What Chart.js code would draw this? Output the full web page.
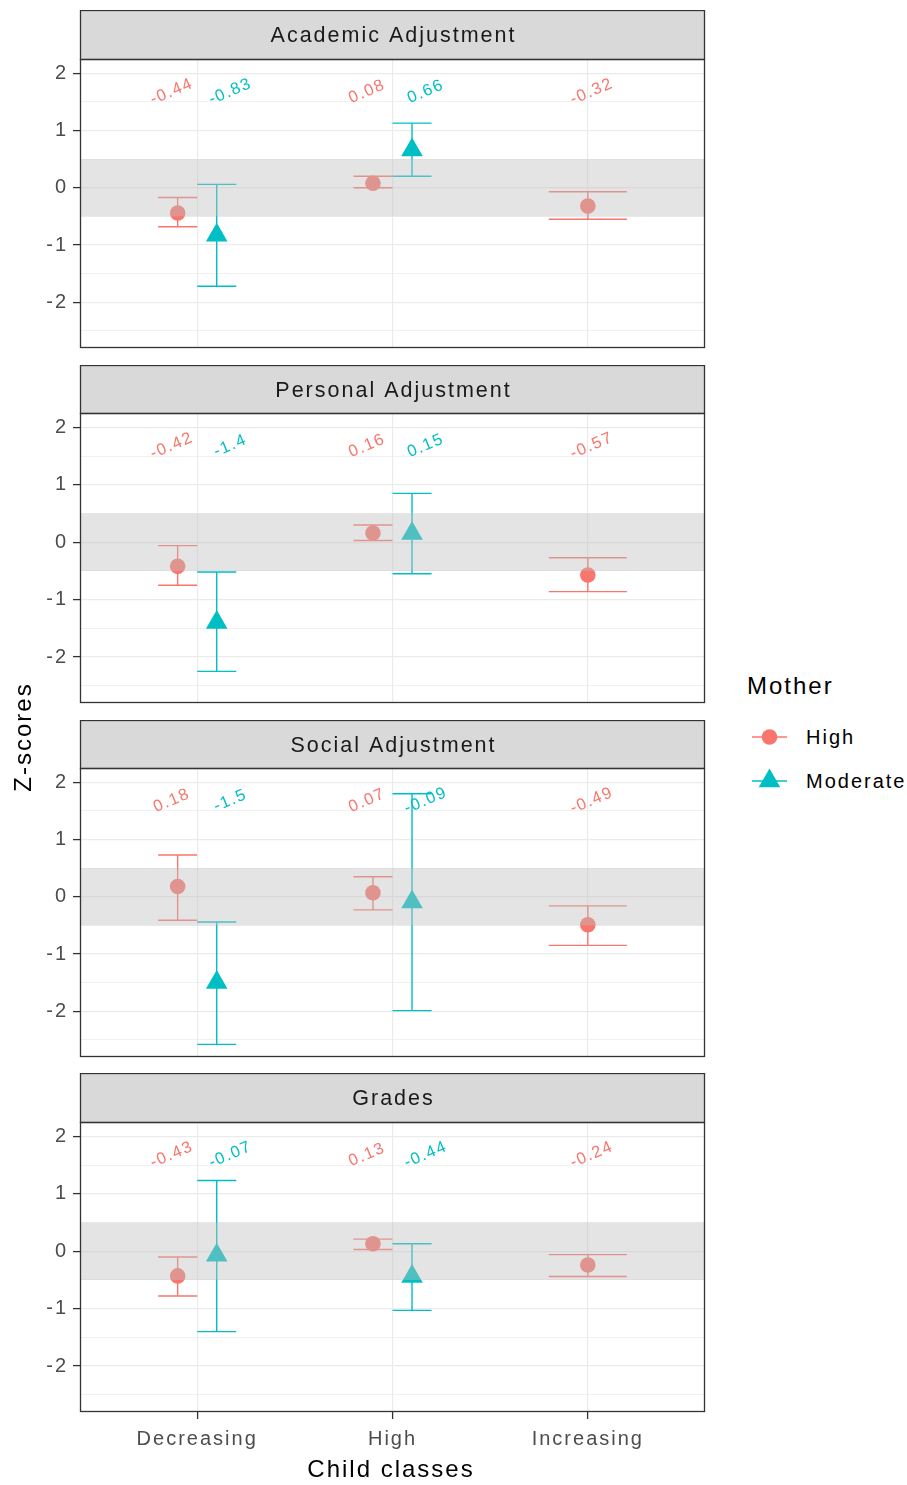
<!DOCTYPE html>
<html><head><meta charset="utf-8">
<script src="https://cdn.jsdelivr.net/npm/chart.js@4.4.0/dist/chart.umd.min.js"></script>
<style>
body{margin:0;background:#fff;width:907px;height:1485px;position:relative;font-family:"Liberation Sans",Arial,sans-serif;overflow:hidden}
canvas{position:absolute;left:0}
.t{position:absolute;white-space:nowrap;color:#000;letter-spacing:2px}
</style></head><body>
<canvas id="c0"></canvas><canvas id="c1"></canvas><canvas id="c2"></canvas><canvas id="c3"></canvas>
<div class="t" style="left:0;top:0;width:44px;height:1485px"><div style="position:absolute;left:23px;top:737px;transform:translate(-50%,-50%) rotate(-90deg);font-size:24px">Z-scores</div></div>
<div class="t" style="left:391px;top:1469px;transform:translate(-50%,-50%);font-size:24px">Child classes</div>
<div class="t" style="left:747px;top:686px;transform:translateY(-50%);font-size:24px">Mother</div>
<svg style="position:absolute;left:748px;top:722px" width="44" height="75">
  <line x1="4" y1="15" x2="39" y2="15" stroke="#F8766D" stroke-width="1.4"/>
  <circle cx="21.5" cy="15" r="7.8" fill="#F8766D"/>
  <line x1="4" y1="59" x2="39" y2="59" stroke="#00BFC4" stroke-width="1.4"/>
  <polygon points="21.5,46.5 32.3,65.2 10.7,65.2" fill="#00BFC4"/>
</svg>
<div class="t" style="left:806px;top:737px;transform:translateY(-50%);font-size:20px" id="lg0"></div>
<div class="t" style="left:806px;top:781px;transform:translateY(-50%);font-size:20px" id="lg1"></div>
<script>
// ---------- data ----------
const panelTitles = ['Academic Adjustment', 'Personal Adjustment', 'Social Adjustment', 'Grades'];
const categories = ['Decreasing', 'High', 'Increasing'];
const seriesNames = ['High', 'Moderate'];
// Mother = High
const highMean = [[-0.44, 0.08, -0.32], [-0.42, 0.16, -0.57], [0.18, 0.07, -0.49], [-0.43, 0.13, -0.24]];
const highLow  = [[-0.68, 0.00, -0.55], [-0.75, 0.03, -0.86], [-0.41, -0.23, -0.85], [-0.78, 0.03, -0.44]];
const highUp   = [[-0.17, 0.20, -0.07], [-0.06, 0.30, -0.27], [0.73, 0.35, -0.16], [-0.10, 0.21, -0.06]];
// Mother = Moderate
const modMean = [[-0.83, 0.66, null], [-1.4, 0.15, null], [-1.5, -0.09, null], [-0.07, -0.44, null]];
const modLow  = [[-1.72, 0.20, null], [-2.25, -0.55, null], [-2.58, -1.99, null], [-1.40, -1.03, null]];
const modUp   = [[0.06, 1.13, null], [-0.52, 0.85, null], [-0.44, 1.80, null], [1.23, 0.13, null]];
const yMajor = [-2, -1, 0, 1, 2];
const yMinor = [-2.5, -1.5, -0.5, 0.5, 1.5];
const band = [-0.5, 0.5];
const yRange = [-2.8, 2.25];
const labelY = 1.68;

// ---------- style / layout ----------
const COLORS = ['#F8766D', '#00BFC4'];
const FONT = '"Liberation Sans", Arial, sans-serif';
const canvasTop = [10, 365, 720, 1073];
const stripH = [49, 48, 48, 49];
const plotH = [289, 290, 289, 290];

document.getElementById('lg0').textContent = seriesNames[0];
document.getElementById('lg1').textContent = seriesNames[1];

function both(p, c) { return highMean[p][c] != null && modMean[p][c] != null; }
function xPos(p, c, s) { const o = both(p, c) ? 0.1 : 0; return c + 1 + (s === 0 ? -o : o); }

const panelPlugin = {
  id: 'panel',
  beforeLayout(chart) { chart.ctx.letterSpacing = '2px'; },
  beforeDraw(chart) { chart.ctx.letterSpacing = '2px'; },
  beforeDatasetsDraw(chart) {
    const p = chart.options.plugins.panel.p, xs = chart.scales.x, ys = chart.scales.y, ctx = chart.ctx;
    const sets = [[highMean, highLow, highUp], [modMean, modLow, modUp]];
    ctx.save();
    ctx.lineWidth = 1.4;
    sets.forEach((set, s) => {
      ctx.strokeStyle = COLORS[s];
      categories.forEach((cat, c) => {
        if (set[0][p][c] == null) return;
        const hw = both(p, c) ? 0.1 : 0.2;
        const xc = xPos(p, c, s);
        const x0 = xs.getPixelForValue(xc - hw), x1 = xs.getPixelForValue(xc + hw), xm = xs.getPixelForValue(xc);
        const yl = ys.getPixelForValue(set[1][p][c]), yu = ys.getPixelForValue(set[2][p][c]);
        ctx.beginPath();
        ctx.moveTo(x0, yl); ctx.lineTo(x1, yl);
        ctx.moveTo(x0, yu); ctx.lineTo(x1, yu);
        ctx.moveTo(xm, yl); ctx.lineTo(xm, yu);
        ctx.stroke();
      });
    });
    ctx.restore();
  },
  afterDatasetsDraw(chart) {
    const p = chart.options.plugins.panel.p, xs = chart.scales.x, ys = chart.scales.y, ctx = chart.ctx, a = chart.chartArea;
    ctx.save();
    const b0 = ys.getPixelForValue(band[1]), b1 = ys.getPixelForValue(band[0]);
    ctx.fillStyle = 'rgba(190,190,190,0.42)';
    ctx.fillRect(a.left, b0, a.right - a.left, b1 - b0);
    ctx.font = '16.5px ' + FONT;
    ctx.letterSpacing = '1.5px';
    ctx.textAlign = 'center'; ctx.textBaseline = 'middle';
    [highMean, modMean].forEach((m, s) => {
      ctx.fillStyle = COLORS[s];
      categories.forEach((cat, c) => {
        const v = m[p][c];
        if (v == null) return;
        const off = both(p, c) ? (s === 0 ? -0.15 : 0.15) : 0;
        const x = xs.getPixelForValue(c + 1 + off + 0.02), y = ys.getPixelForValue(labelY);
        ctx.save(); ctx.translate(x, y); ctx.rotate(-23 * Math.PI / 180);
        ctx.fillText(String(v), 0, 0);
        ctx.restore();
      });
    });
    ctx.restore();
  },
  afterDraw(chart) {
    const p = chart.options.plugins.panel.p, ctx = chart.ctx, a = chart.chartArea;
    ctx.save();
    const L = Math.round(a.left) + 0.5, R = Math.round(a.right) - 0.5, T = Math.round(a.top) + 0.5, B = Math.round(a.bottom) - 0.5;
    ctx.strokeStyle = '#333333'; ctx.lineWidth = 1.3;
    ctx.fillStyle = '#D9D9D9';
    ctx.fillRect(L, 0.5, R - L, T - 0.5);
    ctx.strokeRect(L, 0.5, R - L, T - 0.5);
    ctx.strokeRect(L, T, R - L, B - T);
    ctx.fillStyle = '#1A1A1A';
    ctx.font = '21.5px ' + FONT;
    ctx.letterSpacing = '2px';
    ctx.textAlign = 'center'; ctx.textBaseline = 'middle';
    ctx.fillText(panelTitles[p], (L + R) / 2 + 1, T / 2 + 1.5);
    ctx.restore();
  }
};

for (let p = 0; p < 4; p++) {
  const last = p === 3;
  const extra = last ? 60 : 12;
  const cv = document.getElementById('c' + p);
  cv.width = 720; cv.height = stripH[p] + plotH[p] + extra;
  cv.style.top = canvasTop[p] + 'px';
  const mk = s => categories.map((cat, c) => {
    const m = s === 0 ? highMean : modMean;
    return m[p][c] == null ? null : { x: xPos(p, c, s), y: m[p][c] };
  }).filter(d => d);
  const ch = new Chart(cv, {
    type: 'scatter',
    data: {
      datasets: [
        { label: seriesNames[0], data: mk(0), pointStyle: 'circle', pointRadius: 7.8, backgroundColor: COLORS[0], borderWidth: 0 },
        { label: seriesNames[1], data: mk(1), pointStyle: 'triangle', pointRadius: 12.5, backgroundColor: COLORS[1], borderWidth: 0 }
      ]
    },
    plugins: [panelPlugin],
    options: {
      responsive: false, maintainAspectRatio: false, animation: false, events: [],
      layout: { padding: { left: 0, right: 15, top: stripH[p], bottom: 0 } },
      plugins: { legend: { display: false }, tooltip: { enabled: false }, panel: { p } },
      scales: {
        x: {
          type: 'linear', min: 0.4, max: 3.6,
          afterBuildTicks: s => { s.ticks = categories.map((c, i) => ({ value: i + 1 })); },
          afterFit: s => { s.height = extra; },
          ticks: { display: last, callback: v => categories[v - 1], color: '#4D4D4D', font: { size: 20, family: FONT }, padding: 8, maxRotation: 0, autoSkip: false },
          grid: { color: '#EBEBEB', lineWidth: 1.2, drawTicks: last, tickLength: 7, tickColor: '#333333', tickWidth: 1.3 },
          border: { display: false }
        },
        y: {
          min: yRange[0], max: yRange[1],
          afterBuildTicks: s => { s.ticks = yMinor.concat(yMajor).sort((a, b) => a - b).map(v => ({ value: v })); },
          afterFit: s => { s.width = 80; },
          ticks: { callback: v => yMajor.includes(v) ? String(v) : '', color: '#4D4D4D', font: { size: 20, family: FONT }, padding: 5, autoSkip: false },
          grid: {
            color: '#EBEBEB',
            lineWidth: c => yMajor.includes(c.tick.value) ? 1.2 : 0.7,
            tickColor: c => yMajor.includes(c.tick.value) ? '#333333' : 'rgba(0,0,0,0)',
            tickLength: 7, tickWidth: 1.3
          },
          border: { display: false }
        }
      }
    }
  });
  // make the plot area bottom land exactly where intended
  const target = stripH[p] + plotH[p];
  for (let k = 0; k < 3; k++) {
    const d = Math.round(target - ch.chartArea.bottom);
    if (d === 0) break;
    ch.resize(720, ch.height + d);
  }
}
</script>
</body></html>
